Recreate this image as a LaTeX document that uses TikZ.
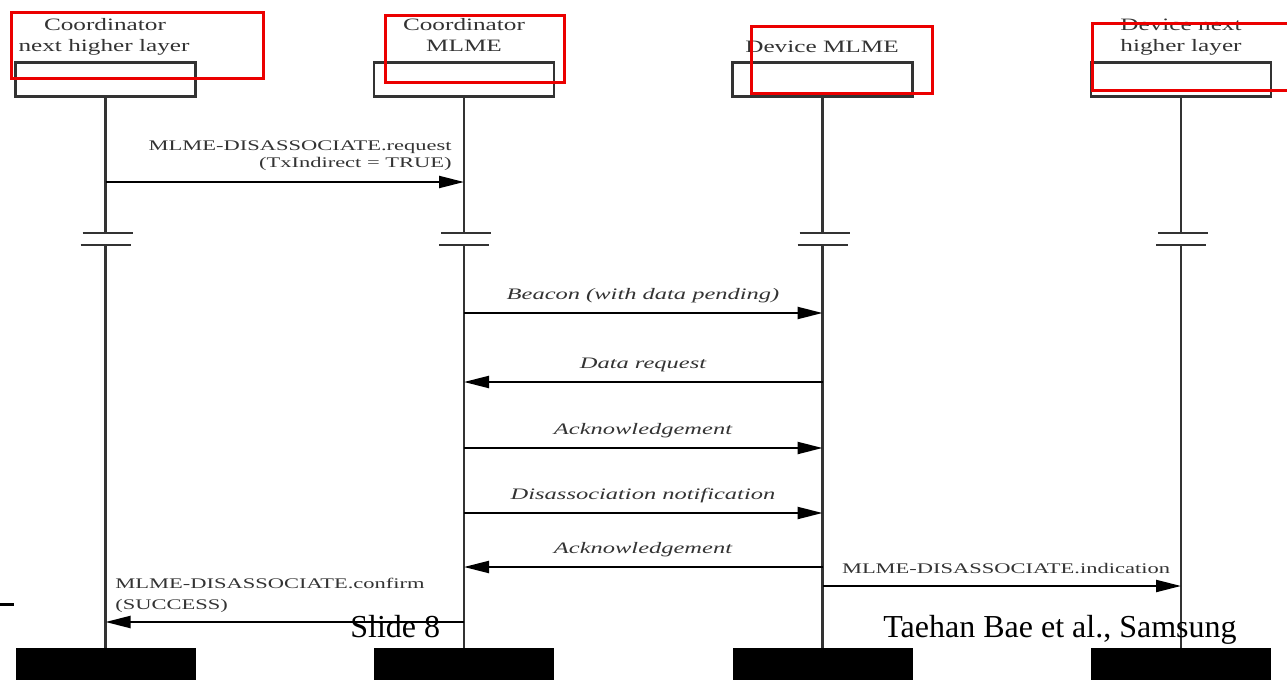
\documentclass[tikz,border=0pt]{standalone}
\usepackage{fontspec}
\usepackage{graphicx}
\setmainfont{Liberation Serif}
\usetikzlibrary{arrows.meta,calc}
\newcommand{\hx}[1]{\scalebox{1.45}[1]{#1}}
\newcommand{\mx}[1]{\scalebox{1.53}[1]{#1}}
\definecolor{linegray}{gray}{0.2}
\definecolor{txtgray}{gray}{0.2}
\definecolor{hlred}{RGB}{235,0,0}
\begin{document}
\begin{tikzpicture}[x=0.5pt,y=-0.5pt,
  headbox/.style={draw=linegray,line width=1.1pt,minimum width=90pt,minimum height=17pt,inner sep=0pt},
  footbox/.style={fill=black,minimum width=90pt,minimum height=16pt,inner sep=0pt},
  lifeline/.style={draw=linegray,line width=1.2pt},
  brk/.style={draw=linegray,line width=1.1pt},
  msg/.style={draw=black,line width=1.1pt,-{Triangle[length=12.5pt,width=6pt]}},
  headlbl/.style={font=\fontsize{8.7pt}{10pt}\selectfont,text=txtgray,inner sep=0pt,anchor=base},
  msglbl/.style={font=\fontsize{7.35pt}{8pt}\selectfont,text=txtgray,inner sep=0pt,anchor=base},
  itlbl/.style={font=\fontsize{8pt}{9pt}\selectfont\itshape,text=txtgray,inner sep=0pt,anchor=base},
  footlbl/.style={font=\fontsize{16pt}{18pt}\selectfont,text=black,inner sep=0pt,anchor=base west},
  redbox/.style={draw=hlred,line width=1.5pt}
]
\useasboundingbox (0,0) rectangle (1287,680);

% head boxes
\node[headbox] (h1) at (105.5,79.5) {};
\node[headbox] (h2) at (464,79.5) {};
\node[headbox] (h3) at (822.5,79.5) {};
\node[headbox] (h4) at (1181,79.5) {};

% foot boxes
\node[footbox] (b1) at (105.5,664) {};
\node[footbox] (b2) at (464,664) {};
\node[footbox] (b3) at (822.5,664) {};
\node[footbox] (b4) at (1181,664) {};

% head labels
\node[headlbl] (t1a) at (105,31) {\hx{Coordinator}};
\node[headlbl] (t1b) at (104,52) {\hx{next higher layer}};
\node[headlbl] (t2a) at (464,31) {\hx{Coordinator}};
\node[headlbl] (t2b) at (464,52) {\hx{MLME}};
\node[headlbl] (t3a) at (822,53) {\hx{Device MLME}};
\node[headlbl] (t4a) at (1181,31) {\hx{Device next}};
\node[headlbl] (t4b) at (1181,52) {\hx{higher layer}};

% lifelines with breaks
\foreach \i in {1,2,3,4}{
  \draw[lifeline] (h\i.south) -- (h\i.south |- 0,233);
  \draw[lifeline] (h\i.south |- 0,245) -- (b\i.north);
  \draw[brk] ($(h\i.south |- 0,233)+(-23,0)$) -- ($(h\i.south |- 0,233)+(27,0)$);
  \draw[brk] ($(h\i.south |- 0,245)+(-25,0)$) -- ($(h\i.south |- 0,245)+(25,0)$);
}

% messages
\draw[msg] (h1.south |- 0,182) -- (h2.south |- 0,182);
\node[msglbl,anchor=base east] (m1a) at (452,150) {\mx{MLME-DISASSOCIATE.request}};
\node[msglbl,anchor=base east] (m1b) at (452,167) {\mx{(TxIndirect = TRUE)}};

\draw[msg] (h2.south |- 0,313) -- (h3.south |- 0,313);
\node[itlbl] (m2) at (643,299) {\mx{Beacon (with data pending)}};

\draw[msg] (h3.south |- 0,382) -- (h2.south |- 0,382);
\node[itlbl] (m3) at (643,368) {\mx{Data request}};

\draw[msg] (h2.south |- 0,448) -- (h3.south |- 0,448);
\node[itlbl] (m4) at (643,434) {\mx{Acknowledgement}};

\draw[msg] (h2.south |- 0,513) -- (h3.south |- 0,513);
\node[itlbl] (m5) at (643,499) {\mx{Disassociation notification}};

\draw[msg] (h3.south |- 0,567) -- (h2.south |- 0,567);
\node[itlbl] (m6) at (643,553) {\mx{Acknowledgement}};

\draw[msg] (h3.south |- 0,586) -- (h4.south |- 0,586);
\node[msglbl] (m7) at (1006,573) {\mx{MLME-DISASSOCIATE.indication}};

\draw[msg] (h2.south |- 0,622) -- (h1.south |- 0,622);
\node[msglbl,anchor=base west] (m8a) at (115,588) {\mx{MLME-DISASSOCIATE.confirm}};
\node[msglbl,anchor=base west] (m8b) at (115,609) {\mx{(SUCCESS)}};

% footer
\node[footlbl] (s8) at (350,637) {Slide 8};
\node[footlbl] (auth) at (883,637) {Taehan Bae et al., Samsung};
\coordinate (lm0) at (0,604);
\coordinate (lm1) at (14,604);
\draw[black,line width=1.5pt] (lm0) -- (lm1);

% red highlight boxes
\draw[redbox] (11,12) rectangle (263,78);
\draw[redbox] (385,15) rectangle (564,82);
\draw[redbox] (751,26) rectangle (932,93);
\draw[redbox] (1092,23) rectangle (1295,90);
\end{tikzpicture}
\end{document}
